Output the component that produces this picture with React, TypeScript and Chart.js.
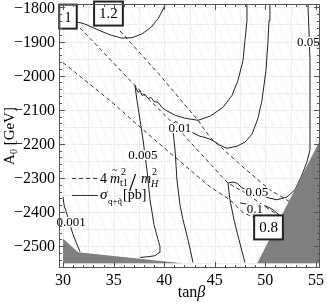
import { useEffect, useRef } from "react";
import { Chart, registerables } from "chart.js";
Chart.register(...registerables);

const X_MIN = 29.6;
const X_MAX = 55.4;
const Y_MIN = -2564;
const Y_MAX = -1790;

const xTickValues = [30, 35, 40, 45, 50, 55];
const yTickValues = [-2500, -2400, -2300, -2200, -2100, -2000, -1900, -1800];

// sigma contours [tanβ, A0]
const sigma0001 = [[30.0, -2356], [30.1, -2379], [30.4, -2408], [30.69, -2437], [30.99, -2466], [31.38, -2495], [31.68, -2516]];
const sigma0005 = [
  [37.61, -2533], [38.4, -2531], [39.09, -2528], [39.49, -2519], [39.58, -2501], [39.39, -2481], [38.99, -2437],
  [38.6, -2364], [38.3, -2277], [38.1, -2233], [37.91, -2189], [37.61, -2131], [37.31, -2073], [37.11, -2029],
  [37.41, -2049], [37.61, -2044], [37.81, -2058], [38.1, -2055], [38.4, -2067], [38.7, -2064], [38.99, -2076],
  [39.39, -2078], [39.78, -2093], [40.18, -2102], [41.07, -2116], [42.06, -2125], [43.34, -2131], [44.53, -2119],
  [45.81, -2093], [46.7, -2058], [47.29, -2014], [47.79, -1956], [47.98, -1898], [48.18, -1839], [48.18, -1792],
];
const sigma001 = [
  [42.85, -2548], [42.35, -2481], [41.86, -2423], [41.56, -2379], [41.26, -2306], [41.07, -2218], [40.87, -2160],
  [40.77, -2143], [41.17, -2134], [41.56, -2146], [42.16, -2154], [42.75, -2166], [43.14, -2172], [43.54, -2178],
  [44.03, -2181], [44.72, -2189], [45.51, -2204], [46.21, -2213], [47.19, -2207], [47.98, -2195], [48.67, -2172],
  [49.27, -2125], [49.66, -2073], [50.06, -1985], [50.26, -1898], [50.36, -1839], [50.45, -1792],
];
const sigma005 = [
  [47.98, -2548], [47.39, -2481], [46.9, -2423], [46.5, -2364], [46.3, -2315], [46.8, -2312], [47.19, -2315],
  [47.69, -2329], [49.17, -2344], [50.26, -2358], [51.15, -2364], [52.13, -2356], [52.92, -2335], [53.62, -2291],
  [54.11, -2253], [54.41, -2218], [54.41, -2102], [54.41, -1956], [54.31, -1869], [54.21, -1792],
];
const sigma01 = [[47.49, -2373], [48.97, -2382], [49.66, -2379], [50.26, -2385], [50.75, -2393], [51.34, -2408]];
const sigmaTop = [
  [31.4, -1843], [32.0, -1847], [32.8, -1857], [33.7, -1869], [34.8, -1882], [35.8, -1890], [36.8, -1889],
  [37.8, -1878], [38.7, -1858], [39.4, -1833], [39.9, -1805], [40.1, -1792],
];

// 4 m_t1^2 / m_H^2 contours
const ratio08 = [[30.0, -1962], [34.64, -2073], [39.09, -2189], [44.53, -2326], [46.5, -2364], [47.79, -2402], [48.97, -2417], [50.06, -2440]];
const ratio10 = [[31.68, -1860], [37.11, -2029], [40.77, -2137], [46.3, -2315], [47.98, -2343], [49.96, -2384], [51.64, -2416]];
const ratio12 = [[35.63, -1869], [39.58, -1999], [43.34, -2131], [44.53, -2181], [47.79, -2268], [50.45, -2335], [52.43, -2370]];

// excluded regions
const grayLeft = [[30, -2478], [31.5, -2518], [41.8, -2550], [30, -2550]];
const grayRight = [[49.2, -2550], [55.3, -2195], [55.3, -2550]];

// contour labels
const contourLabelTexts = ["0.001", "0.005", "0.01", "0.05", "0.05", "0.1"];
const contourLabelAt = [[30.79, -2429], [37.9, -2233], [41.56, -2154], [54.24, -1901], [49.17, -2341], [48.97, -2391]];
const boxLabelTexts = ["1", "1.2", "0.8"];
const boxLabelAt = [[30.49, -1827], [34.49, -1818], [50.31, -2445]];

const SERIF = '"Liberation Serif", "Times New Roman", serif';

const toPts = (a: number[][]) => a.map(([x, y]) => ({ x, y }));

const decor = {
  id: "decor",
  beforeDatasetsDraw(chart: any) {
    const { ctx, chartArea: a, scales } = chart;
    const x = scales.x, y = scales.y;
    ctx.save();
    ctx.beginPath();
    ctx.rect(a.left, a.top, a.right - a.left, a.bottom - a.top);
    ctx.clip();
    ctx.lineWidth = 1;
    ctx.strokeStyle = "#f3f3f3";
    ctx.beginPath();
    for (let k = -120; k < a.right - a.left + 20; k += 9) {
      ctx.moveTo(a.left + k, a.top);
      ctx.lineTo(a.left + k + 100, a.bottom);
    }
    ctx.stroke();
    ctx.strokeStyle = "#eeeeee";
    ctx.beginPath();
    for (let v = 30; v <= 55; v += 2.5) {
      const px = Math.round(x.getPixelForValue(v)) + 0.5;
      ctx.moveTo(px, a.top);
      ctx.lineTo(px, a.bottom);
    }
    for (let v = -2550; v <= -1800; v += 50) {
      const py = Math.round(y.getPixelForValue(v)) + 0.5;
      ctx.moveTo(a.left, py);
      ctx.lineTo(a.right, py);
    }
    ctx.stroke();
    ctx.restore();
  },
  afterDatasetsDraw(chart: any) {
    const { ctx, chartArea: a, scales } = chart;
    const x = scales.x, y = scales.y;
    ctx.save();
    ctx.font = `13px ${SERIF}`;
    ctx.textAlign = "center";
    ctx.textBaseline = "middle";
    contourLabelTexts.forEach((t, i) => {
      const px = x.getPixelForValue(contourLabelAt[i][0]);
      const py = y.getPixelForValue(contourLabelAt[i][1]);
      const w = ctx.measureText(t).width;
      ctx.fillStyle = "#ffffff";
      ctx.fillRect(px - w / 2 - 1, py - 5, w + 2, 10);
      ctx.fillStyle = "#000";
      ctx.fillText(t, px, py + 0.5);
    });
    ctx.font = `15px ${SERIF}`;
    boxLabelTexts.forEach((t, i) => {
      const px = x.getPixelForValue(boxLabelAt[i][0]);
      const py = y.getPixelForValue(boxLabelAt[i][1]);
      const w = ctx.measureText(t).width + 10;
      const h = 24;
      ctx.fillStyle = "#fff";
      ctx.fillRect(px - w / 2, py - h / 2, w, h);
      ctx.strokeStyle = "#222";
      ctx.lineWidth = 2;
      ctx.strokeRect(px - w / 2, py - h / 2, w, h);
      ctx.fillStyle = "#000";
      ctx.fillText(t, px, py + 1);
    });
    // legend
    const lx = a.left + 13;
    const ly1 = y.getPixelForValue(-2300);
    const ly2 = ly1 + 17;
    ctx.strokeStyle = "#333";
    ctx.lineWidth = 1;
    ctx.setLineDash([4, 3]);
    ctx.beginPath();
    ctx.moveTo(lx, ly1 + 0.5);
    ctx.lineTo(lx + 26, ly1 + 0.5);
    ctx.stroke();
    ctx.setLineDash([]);
    ctx.beginPath();
    ctx.moveTo(lx, ly2 + 0.5);
    ctx.lineTo(lx + 26, ly2 + 0.5);
    ctx.stroke();
    ctx.fillStyle = "#000";
    ctx.textAlign = "left";
    ctx.textBaseline = "alphabetic";
    let tx = lx + 28;
    ctx.font = `14px ${SERIF}`;
    ctx.fillText("4", tx, ly1 + 5);
    tx += 10;
    ctx.font = `italic 14px ${SERIF}`;
    ctx.fillText("m", tx, ly1 + 5);
    ctx.font = `10px ${SERIF}`;
    ctx.fillText("~", tx + 2, ly1 - 5);
    ctx.fillText("2", tx + 11, ly1 - 3);
    ctx.fillText("t1", tx + 10, ly1 + 8);
    ctx.font = `26px ${SERIF}`;
    ctx.fillText("/", tx + 19, ly1 + 13);
    ctx.font = `italic 14px ${SERIF}`;
    ctx.fillText("m", tx + 31, ly1 + 5);
    ctx.font = `10px ${SERIF}`;
    ctx.fillText("2", tx + 42, ly1 - 3);
    ctx.font = `italic 10px ${SERIF}`;
    ctx.fillText("H", tx + 41, ly1 + 9);
    tx = lx + 28;
    ctx.font = `italic 15px ${SERIF}`;
    ctx.fillText("σ", tx, ly2 + 4);
    ctx.font = `9px ${SERIF}`;
    ctx.fillText("q+q̃", tx + 8, ly2 + 9);
    ctx.font = `14px ${SERIF}`;
    ctx.fillText("[pb]", tx + 23, ly2 + 4);
    ctx.restore();
  },
  afterDraw(chart: any) {
    const { ctx, chartArea: a, scales } = chart;
    const x = scales.x, y = scales.y;
    ctx.save();
    ctx.strokeStyle = "#555";
    ctx.lineWidth = 1;
    ctx.strokeRect(a.left + 0.5, a.top + 0.5, a.right - a.left - 1, a.bottom - a.top - 1);
    ctx.beginPath();
    for (let v = 30; v <= 55; v += 1) {
      const px = Math.round(x.getPixelForValue(v)) + 0.5;
      const len = v % 5 === 0 ? 6 : 3;
      ctx.moveTo(px, a.bottom);
      ctx.lineTo(px, a.bottom - len);
      ctx.moveTo(px, a.top);
      ctx.lineTo(px, a.top + len);
    }
    for (let v = -2560; v <= -1800; v += 20) {
      const py = Math.round(y.getPixelForValue(v)) + 0.5;
      const len = v % 100 === 0 ? 6 : 3;
      ctx.moveTo(a.left, py);
      ctx.lineTo(a.left + len, py);
      ctx.moveTo(a.right, py);
      ctx.lineTo(a.right - len, py);
    }
    ctx.stroke();
    ctx.fillStyle = "#000";
    ctx.font = `16px ${SERIF}`;
    ctx.textAlign = "right";
    ctx.textBaseline = "middle";
    yTickValues.forEach((v) => {
      ctx.fillText("\u2212" + String(Math.abs(v)), a.left - 4, y.getPixelForValue(v) + 1);
    });
    ctx.textAlign = "center";
    ctx.textBaseline = "alphabetic";
    xTickValues.forEach((v) => {
      ctx.fillText(String(v), x.getPixelForValue(v), a.bottom + 17);
    });
    ctx.font = `16px ${SERIF}`;
    const w1 = ctx.measureText("tan").width;
    ctx.font = `italic 16px ${SERIF}`;
    const w2 = ctx.measureText("β").width;
    const cx = (a.left + a.right) / 2 + 2;
    ctx.textAlign = "left";
    ctx.font = `16px ${SERIF}`;
    ctx.fillText("tan", cx - (w1 + w2) / 2, a.bottom + 29);
    ctx.font = `italic 16px ${SERIF}`;
    ctx.fillText("β", cx - (w1 + w2) / 2 + w1, a.bottom + 29);
    ctx.translate(14, (a.top + a.bottom) / 2);
    ctx.rotate(-Math.PI / 2);
    ctx.font = `15px ${SERIF}`;
    const wa = ctx.measureText("A").width;
    ctx.font = `10px ${SERIF}`;
    const w0 = ctx.measureText("0").width;
    ctx.font = `15px ${SERIF}`;
    const wg = ctx.measureText(" [GeV]").width;
    const sx = -(wa + w0 + wg) / 2;
    ctx.fillText("A", sx, 0);
    ctx.font = `10px ${SERIF}`;
    ctx.fillText("0", sx + wa, 3);
    ctx.font = `15px ${SERIF}`;
    ctx.fillText(" [GeV]", sx + wa + w0, 0);
    ctx.restore();
  },
};

export default function App() {
  const ref = useRef<HTMLCanvasElement>(null);
  useEffect(() => {
    document.body.style.margin = "0";
    const canvas = ref.current as HTMLCanvasElement;
    const solid = (d: number[][]) => ({
      data: toPts(d),
      borderColor: "#222",
      borderWidth: 1,
      pointRadius: 0,
      fill: false,
      order: 2,
    });
    const dashed = (d: number[][]) => ({
      data: toPts(d),
      borderColor: "#333",
      borderWidth: 1,
      borderDash: [4, 3],
      pointRadius: 0,
      fill: false,
      order: 3,
    });
    const gray = (d: number[][]) => ({
      data: toPts(d),
      borderColor: "rgba(0,0,0,0)",
      borderWidth: 0,
      backgroundColor: "#808080",
      pointRadius: 0,
      fill: "shape",
      order: 0,
    });
    const chart = new Chart(canvas, {
      type: "line",
      data: {
        datasets: [
          gray(grayLeft),
          gray(grayRight),
          solid(sigma0001),
          solid(sigma0005),
          solid(sigma001),
          solid(sigma005),
          solid(sigma01),
          solid(sigmaTop),
          dashed(ratio08),
          dashed(ratio10),
          dashed(ratio12),
        ] as any,
      },
      options: {
        responsive: false,
        animation: false,
        events: [],
        layout: { padding: { left: 59, top: 4, right: 7, bottom: 38 } },
        plugins: { legend: { display: false }, tooltip: { enabled: false } },
        scales: {
          x: { type: "linear", min: X_MIN, max: X_MAX, display: false },
          y: { type: "linear", min: Y_MIN, max: Y_MAX, display: false },
        },
        elements: { line: { tension: 0 } },
      } as any,
      plugins: [decor as any],
    });
    return () => chart.destroy();
  }, []);
  return <canvas ref={ref} width={327} height={306} style={{ display: "block" }} />;
}
